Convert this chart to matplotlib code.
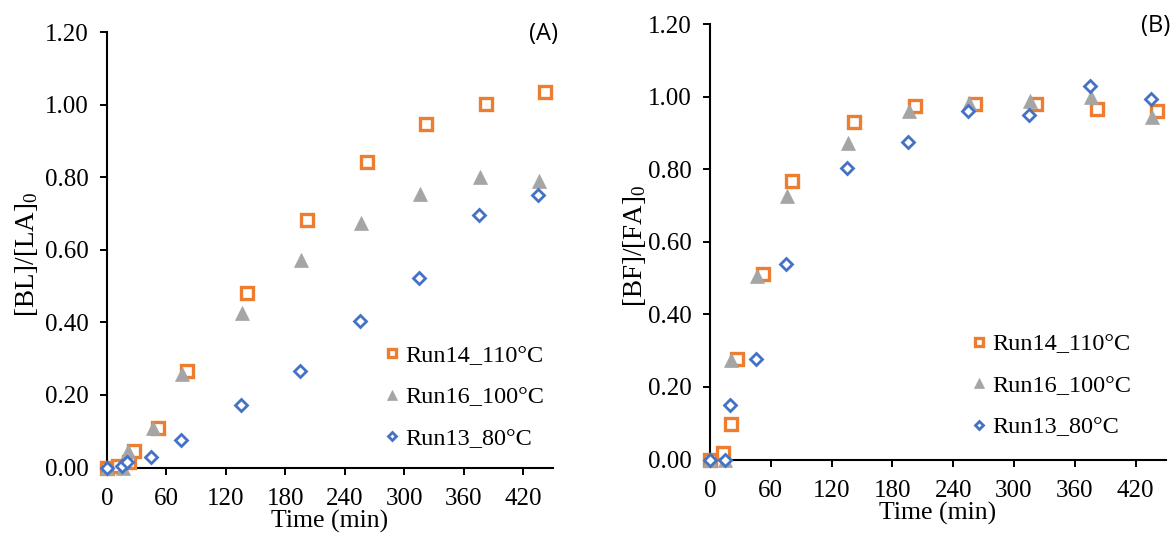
import matplotlib
matplotlib.use("Agg")
import matplotlib.pyplot as plt

plt.rcParams['font.family'] = ['Liberation Serif', 'DejaVu Serif']
plt.rcParams['mathtext.fontset'] = 'custom'
plt.rcParams['mathtext.rm'] = 'Liberation Serif'
plt.rcParams['mathtext.it'] = 'Liberation Serif:italic'

# ---- Panel A data: [BL]/[LA]0 ----
a_run14_t = [0, 11, 22, 27, 51, 81, 141, 202, 262, 322, 382, 442]
a_run14_v = [0.0, 0.004, 0.014, 0.046, 0.108, 0.266, 0.481, 0.681, 0.843, 0.947, 1.003, 1.035]
a_run16_t = [0, 16, 21, 46, 76, 136, 196, 256, 316, 376, 436]
a_run16_v = [0.0, 0.0, 0.046, 0.108, 0.259, 0.426, 0.571, 0.675, 0.755, 0.800, 0.790]
a_run13_t = [0, 15, 20, 44, 75, 135, 195, 255, 315, 375, 435]
a_run13_v = [0.0, 0.004, 0.015, 0.030, 0.077, 0.171, 0.267, 0.403, 0.521, 0.696, 0.752]

# ---- Panel B data: [BF]/[FA]0 ----
b_run14_t = [0, 13, 21, 27, 52, 81, 142, 202, 262, 322, 382, 441]
b_run14_v = [0.0, 0.019, 0.098, 0.278, 0.510, 0.768, 0.930, 0.973, 0.979, 0.979, 0.965, 0.959]
b_run16_t = [0, 15, 21, 46, 76, 136, 196, 256, 316, 376, 436]
b_run16_v = [0.0, 0.0, 0.275, 0.507, 0.725, 0.872, 0.960, 0.983, 0.989, 0.999, 0.945]
b_run13_t = [0, 15, 20, 45, 75, 135, 195, 255, 315, 375, 435]
b_run13_v = [0.0, 0.0, 0.150, 0.276, 0.539, 0.804, 0.876, 0.960, 0.949, 1.029, 0.993]

labels = ['Run14_110°C', 'Run16_100°C', 'Run13_80°C']
xticks = [0, 60, 120, 180, 240, 300, 360, 420]
yticks = [0.0, 0.2, 0.4, 0.6, 0.8, 1.0, 1.2]

ORANGE = '#ED7D31'
GRAY = '#A5A5A5'
BLUE = '#4472C4'

fig = plt.figure(figsize=(11.73, 5.34), dpi=100)
axA = fig.add_axes([0.0912, 0.1245, 0.3802, 0.8155])
axB = fig.add_axes([0.6053, 0.1395, 0.3887, 0.8155])


def draw(ax, d14, d16, d13, ylabel, tag, leg_anchor, ylab_x):
    ax.plot(d14[0], d14[1], ls='none', marker='s', ms=8.7, mfc='white',
            mec=ORANGE, mew=2.4, clip_on=False, zorder=3, label=labels[0])
    ax.plot(d16[0], d16[1], ls='none', marker='^', ms=9.8, mfc=GRAY,
            mec=GRAY, mew=0.5, clip_on=False, zorder=4, label=labels[1])
    ax.plot(d13[0], d13[1], ls='none', marker='D', ms=6.6, mfc='white',
            mec=BLUE, mew=2.0, clip_on=False, zorder=5, label=labels[2])
    ax.set_xlim(0, 450)
    ax.set_ylim(0, 1.2)
    ax.set_xticks(xticks)
    ax.set_yticks(yticks)
    ax.set_yticklabels([f'{v:.2f}' for v in yticks])
    ax.tick_params(axis='both', direction='out', length=5, width=1.4,
                   labelsize=18, colors='black')
    ax.tick_params(axis='x', pad=10)
    ax.tick_params(axis='y', pad=8)
    for s in ['top', 'right']:
        ax.spines[s].set_visible(False)
    for s in ['left', 'bottom']:
        ax.spines[s].set_linewidth(1.5)
    ax.set_xlabel('Time (min)', fontsize=18.5, labelpad=0)
    ax.set_ylabel(ylabel, fontsize=19.5)
    ax.yaxis.set_label_coords(ylab_x, 0.49)
    ax.text(440, 1.194, tag, fontsize=17, family=['Open Sans', 'DejaVu Sans'],
            ha='center', va='center')
    ax.legend(loc='upper left', bbox_to_anchor=leg_anchor, frameon=False,
              fontsize=17.5, markerscale=0.68, handlelength=0.6,
              handletextpad=0.25, labelspacing=0.8, borderpad=0)


draw(axA, (a_run14_t, a_run14_v), (a_run16_t, a_run16_v), (a_run13_t, a_run13_v),
     r'[BL]/[LA]$_0$', '(A)', (0.596, 0.31), -0.15)
draw(axB, (b_run14_t, b_run14_v), (b_run16_t, b_run16_v), (b_run13_t, b_run13_v),
     r'[BF]/[FA]$_0$', '(B)', (0.548, 0.318), -0.135)

fig.savefig('out.png', dpi=100)
